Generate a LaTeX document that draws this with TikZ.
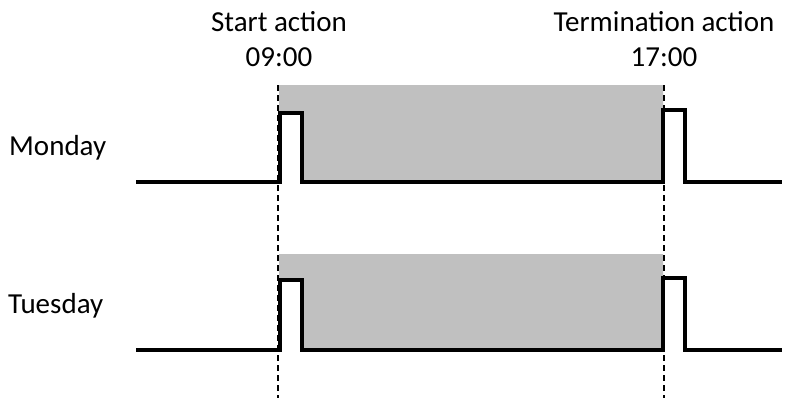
\documentclass[tikz,border=0pt]{standalone}
\usepackage{fontspec}
\setmainfont{Carlito}
\begin{document}
\begin{tikzpicture}[x=1pt,y=-1pt,
  lbl/.style={font=\fontsize{29}{34}\selectfont, inner sep=0pt, anchor=base},
  signal/.style={line width=4.5pt, line join=miter, line cap=butt},
  band/.style={fill={rgb,255:red,192;green,192;blue,192}, draw=none},
  guide/.style={line width=1.3pt, dash pattern=on 6pt off 4pt}]
\useasboundingbox (0,0) rectangle (797,400);
% shaded windows (pulse interiors left white)
\fill[band] (279,85) -- (663,85) -- (663,182) -- (302,182) -- (302,113) -- (279,113) -- cycle;
\fill[band] (279,254) -- (663,254) -- (663,350) -- (302,350) -- (302,280) -- (279,280) -- cycle;
% guides
\draw[guide] (278,85) -- (278,398);
\draw[guide] (664,85) -- (664,398);
% signals
\draw[signal] (136,182) -- (280,182) -- (280,113) -- (302,113) -- (302,182) -- (663,182) -- (663,110) -- (685,110) -- (685,182) -- (782,182);
\draw[signal] (136,350) -- (280,350) -- (280,280) -- (302,280) -- (302,350) -- (663,350) -- (663,278) -- (685,278) -- (685,350) -- (782,350);
% labels
\node[lbl] (start) at (279,31) {Start action};
\node[lbl] (t1) at (279,66) {09:00};
\node[lbl] (term) at (664,31) {Termination action};
\node[lbl] (t2) at (664,66) {17:00};
\node[lbl, anchor=base west] (mon) at (9,155) {Monday};
\node[lbl, anchor=base west] (tue) at (8,313) {Tuesday};
\end{tikzpicture}
\end{document}
